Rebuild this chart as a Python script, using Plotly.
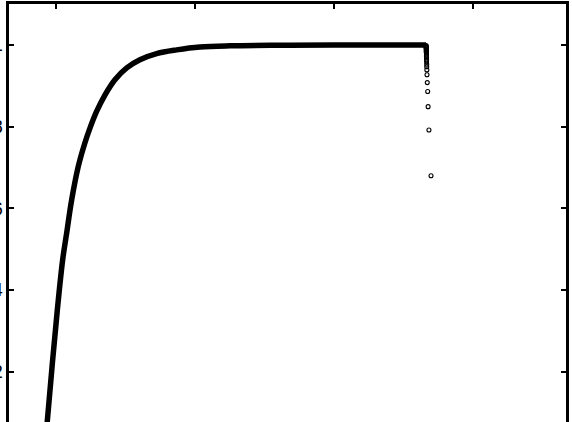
import plotly.graph_objects as go

# main saturating curve (x in tick units, y in axis units)
curve_x = [0.92, 0.937, 1.009, 1.048, 1.077, 1.113, 1.160, 1.205, 1.245, 1.293, 1.353, 1.424, 1.509,
           1.604, 1.724, 1.868, 2.036, 2.252, 2.6, 3.0, 3.662]
curve_y = [0.0, 0.077, 0.349, 0.474, 0.540, 0.621, 0.702, 0.757, 0.797, 0.838, 0.878, 0.915, 0.944,
           0.964, 0.979, 0.988, 0.995, 0.998, 0.9995, 1.0, 1.0]

# points of the drop at the end of the curve
drop_x = [3.663, 3.663, 3.663, 3.663, 3.663, 3.664, 3.664, 3.664, 3.664, 3.664, 3.665, 3.665, 3.665,
          3.665, 3.666, 3.666, 3.666, 3.667, 3.667, 3.668, 3.669, 3.671, 3.674, 3.677, 3.683, 3.698]
drop_y = [0.9985, 0.997, 0.9955, 0.994, 0.9925, 0.991, 0.989, 0.987, 0.985, 0.983, 0.981, 0.978, 0.975,
          0.972, 0.968, 0.964, 0.959, 0.953, 0.947, 0.939, 0.927, 0.908, 0.886, 0.849, 0.792, 0.680]

x_ticks = [1, 2, 3, 4]
y_ticks = [0.2, 0.4, 0.6, 0.8, 1.0]
y_tick_labels = ["0.2", "0.4", "0.6", "0.8", "1"]

fig = go.Figure()
fig.add_trace(go.Scatter(x=curve_x, y=curve_y, mode="lines",
                         line=dict(color="black", width=5.5, shape="spline", smoothing=1.0),
                         showlegend=False, hoverinfo="skip"))
fig.add_trace(go.Scatter(x=drop_x, y=drop_y, mode="markers",
                         marker=dict(symbol="circle-open", size=4, color="black", line=dict(width=1.1)),
                         showlegend=False, hoverinfo="skip"))

fig.update_layout(
    width=572, height=422,
    margin=dict(l=9, r=6, t=4, b=0),
    plot_bgcolor="white", paper_bgcolor="white",
    font=dict(family="Liberation Sans, Arial, sans-serif", size=18, color="black"),
)
fig.update_xaxes(range=[0.662, 4.669], side="top", showline=True, linecolor="black", linewidth=2.5,
                 mirror=False, ticks="inside", ticklen=5, tickwidth=2, tickcolor="black",
                 tickvals=x_ticks, showticklabels=False, showgrid=False, zeroline=False,
                 automargin=False)
fig.update_yaxes(range=[0.0769, 1.1004], showline=True, linecolor="black", linewidth=2.5,
                 mirror="ticks", ticks="inside", ticklen=5, tickwidth=2, tickcolor="black",
                 tickvals=y_ticks, ticktext=y_tick_labels, showgrid=False, zeroline=False,
                 automargin=False)

# page has a default 8px body margin; drop it so the figure sits at the window corner
fig.write_html("out.html", config={"displayModeBar": False},
               post_script="document.body.style.margin='0';document.body.style.overflow='hidden';")
